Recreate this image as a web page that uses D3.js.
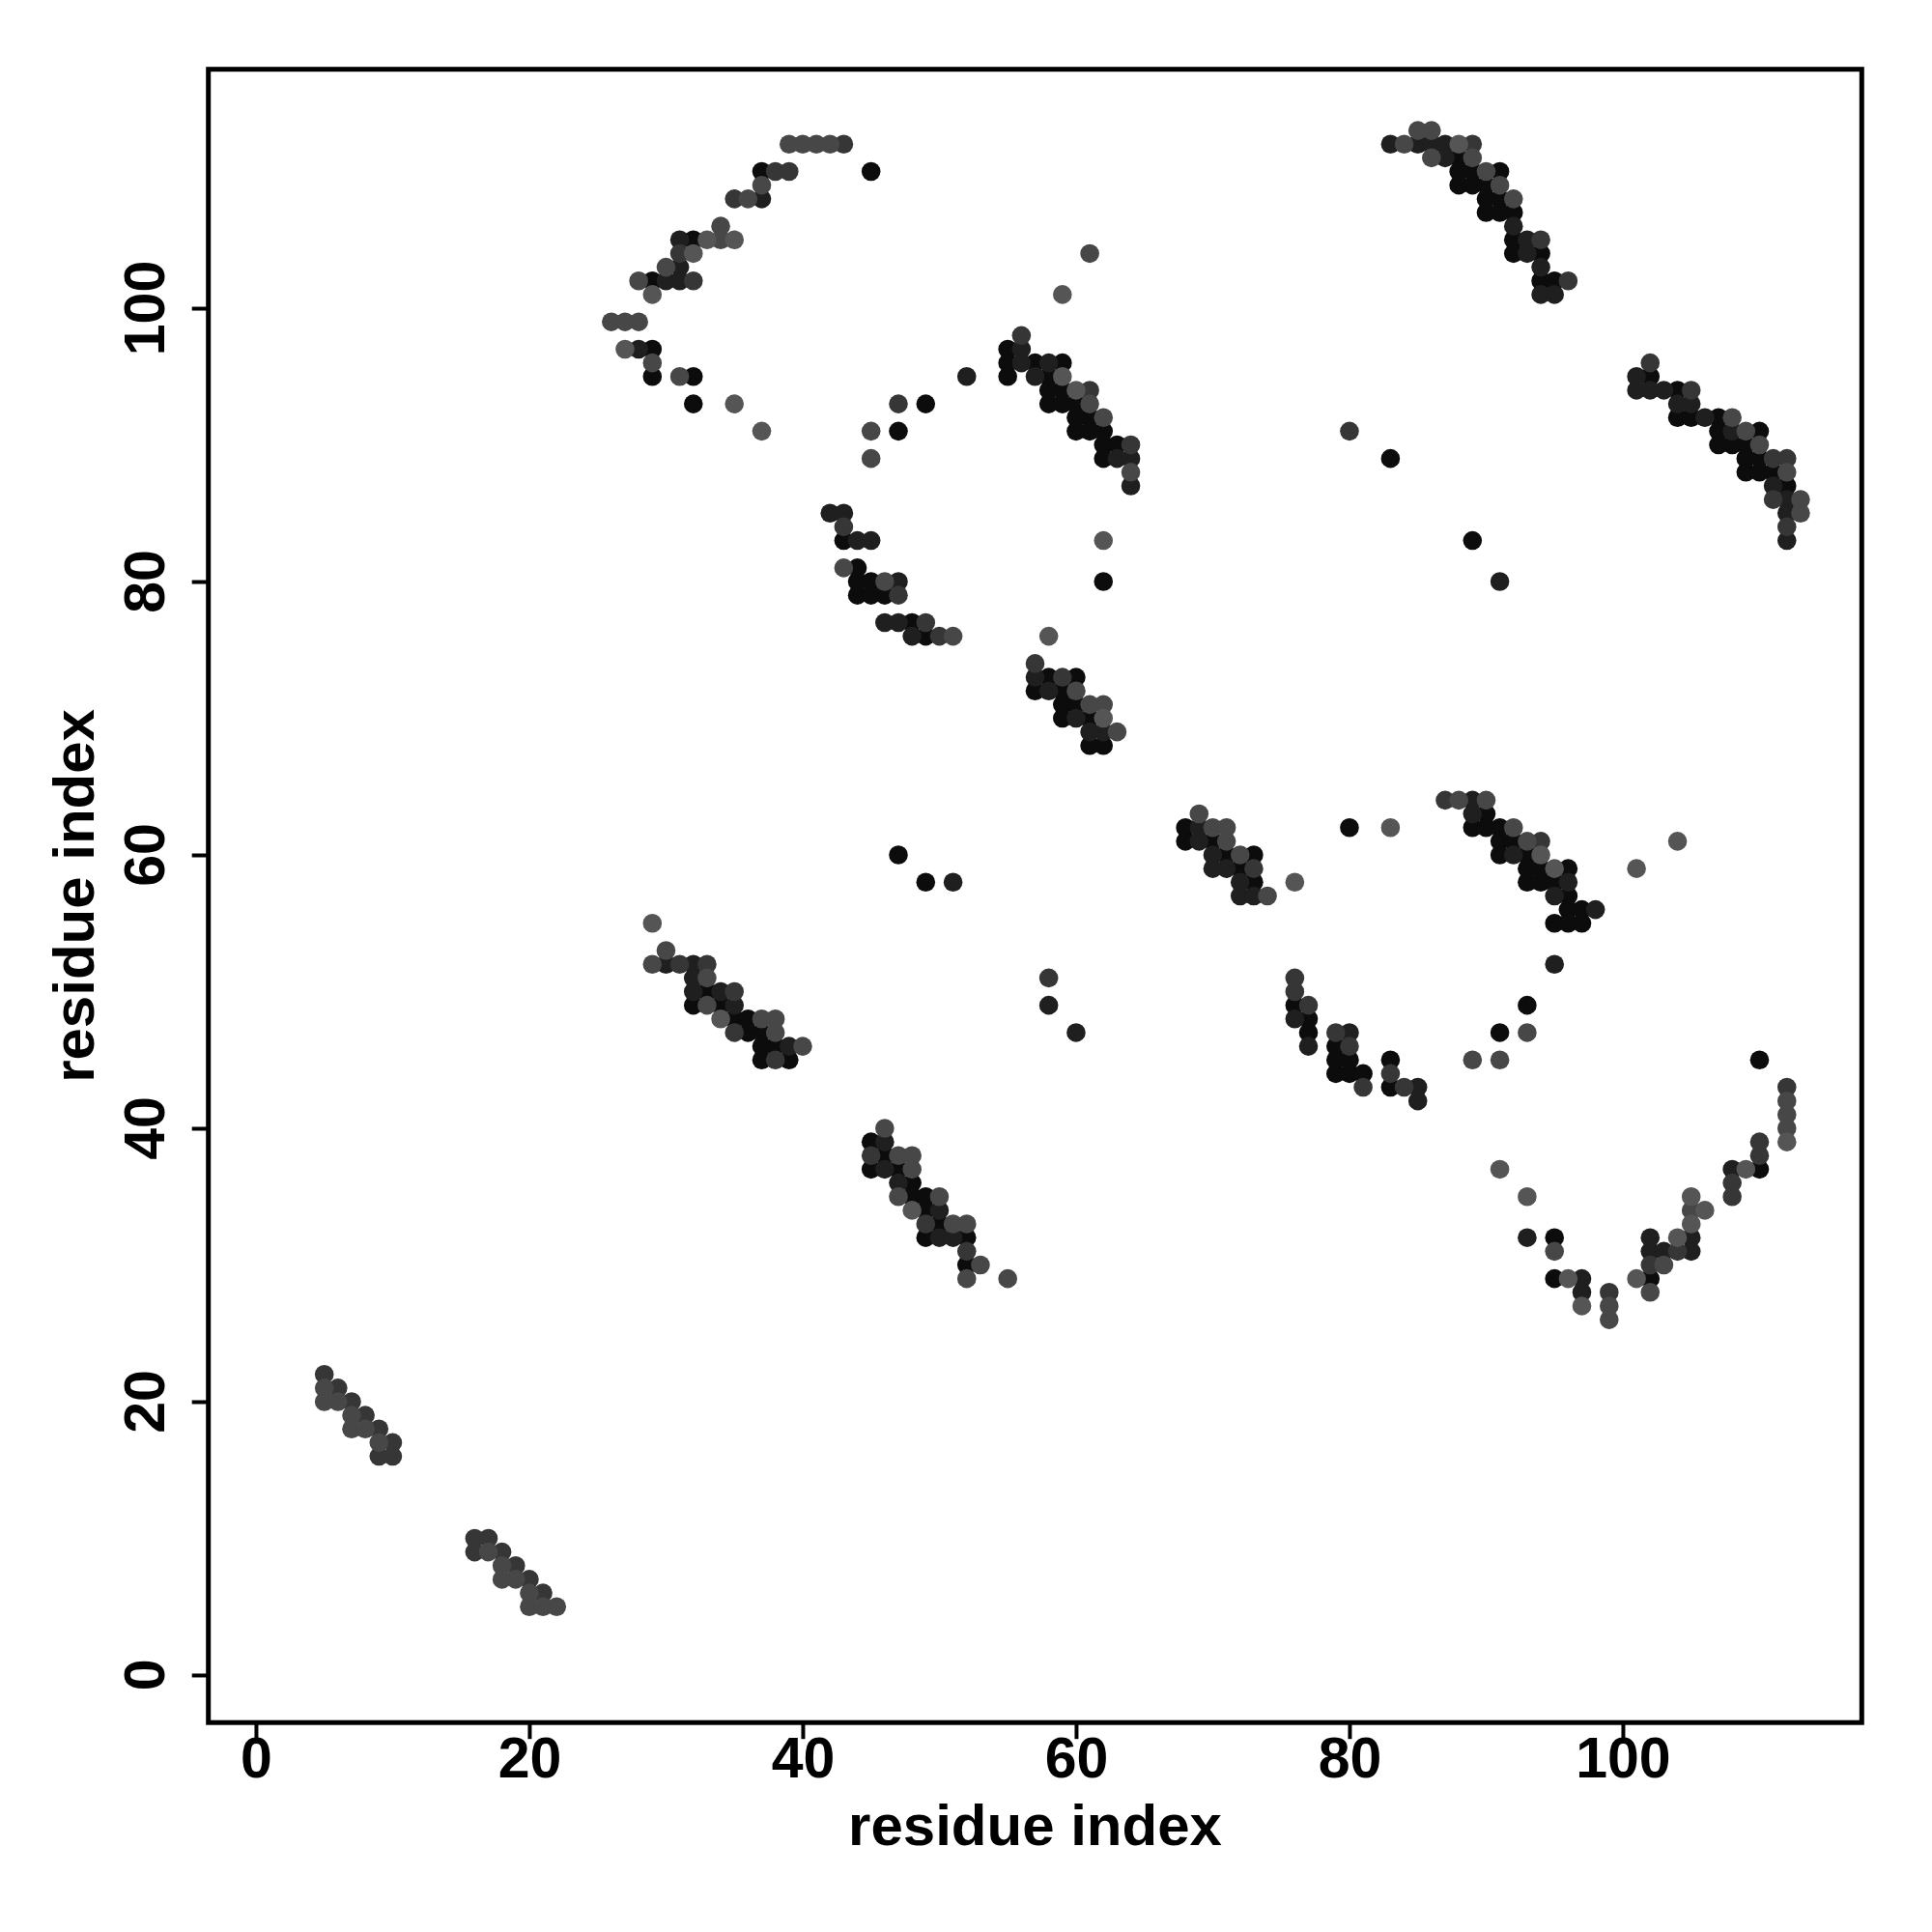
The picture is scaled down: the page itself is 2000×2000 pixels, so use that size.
<!DOCTYPE html>
<html><head><meta charset="utf-8">
<script src="https://cdn.jsdelivr.net/npm/d3@7"></script>
<style>body{margin:0;background:#fff}</style>
</head><body>
<script>
// Tick labels
const xTicks = [0, 20, 40, 60, 80, 100];
const yTicks = [0, 20, 40, 60, 80, 100];

// Contact pairs [residue i, residue j], grouped by shade level (5 = darkest)
const level5 = [[37,110],[45,110],[32,105],[29,102],[29,97],[29,95],[32,95],[32,93],[49,93],[47,91],
[88,111],[88,110],[89,110],[91,110],[88,109],[89,109],[90,109],[90,108],[91,108],[90,107],[91,107],[92,107],[92,105],[92,104],[94,104],[94,102],[95,102],
[55,97],[55,96],[57,96],[59,96],[55,95],[58,95],[58,94],[59,94],[58,93],[59,93],[60,93],[60,92],[61,92],[60,91],[61,91],[62,91],[62,90],[63,90],[62,89],
[102,95],[104,94],[104,92],[105,92],[107,92],[107,91],[110,91],[107,90],[108,90],[109,90],[109,89],[110,89],[109,88],[110,88],[111,88],[112,87],
[83,89],[89,83],
[43,83],[44,81],[44,80],[45,80],[44,79],[45,79],[46,79],[48,77],[49,76],[62,80],
[58,73],[60,73],[57,72],[59,72],[59,71],[60,71],[59,70],[61,70],[61,68],[62,68],
[68,62],[68,61],[70,61],[71,60],[73,60],[72,59],[73,58],[80,62],
[90,63],[89,62],[90,62],[91,62],[91,61],[92,61],[91,60],[93,60],[93,59],[94,59],[96,59],[93,58],[94,58],[95,58],[96,57],[96,56],[97,56],[95,55],[96,55],[97,55],
[47,60],[49,58],
[33,50],[32,49],[34,49],[35,48],[36,48],[36,47],[37,47],[37,46],[38,46],[37,45],[39,45],
[76,49],[77,48],[77,47],[79,46],[79,45],[80,45],[79,44],[80,44],[81,44],[83,45],[83,43],[91,47],[93,49],
[45,39],[46,38],[45,37],[47,37],[48,36],[48,35],[49,35],[49,34],[50,33],[49,32],[52,32],[52,30],
[110,45],[110,37],[95,32],[95,29],[102,29]];

const level4 = [[37,108],[31,105],[31,103],[30,102],[31,102],[28,97],[52,95],
[83,112],[85,112],[86,112],[87,112],[87,111],[92,106],[93,105],[93,104],[94,103],[94,101],[95,101],
[56,97],[56,96],[58,96],[57,95],[63,89],[64,89],[64,87],
[101,95],[101,94],[102,94],[103,94],[104,93],[105,93],[106,92],[108,91],[111,87],[112,86],[112,85],[112,83],
[91,80],
[42,85],[43,85],[44,83],[45,83],[47,80],[46,77],[47,77],[48,76],
[57,73],[58,72],[60,70],[61,69],[62,69],
[69,62],[69,61],[70,60],[70,59],[71,59],[72,58],[72,57],[73,57],
[89,64],[89,63],[92,60],[96,58],[95,57],[98,56],[95,52],
[51,58],
[30,52],[32,52],[32,51],[32,50],[34,50],[35,49],[39,46],[58,49],[60,47],
[76,48],[80,47],[77,46],[85,43],[85,42],
[46,39],[46,37],[47,36],[50,34],[50,32],[51,32],
[108,37],[93,32],[102,32],[105,32],[102,31],[103,31],[105,31],[97,29],[97,28]];

const level3 = [[43,112],[38,110],[39,110],[35,108],[31,104],[32,102],[47,93],
[89,112],[94,105],[96,102],
[56,98],[61,94],[64,90],
[102,96],[105,94],[111,89],[112,89],[111,86],[112,84],
[80,91],
[43,84],[47,79],[49,77],[50,76],
[57,74],[59,73],
[73,59],
[87,64],[94,61],
[31,52],[33,52],[35,50],[35,47],[38,45],[58,51],
[76,51],[76,50],[77,49],[79,47],[80,46],[81,43],[83,44],[84,43],
[45,38],[49,33],[52,31],
[112,43],[110,39],[110,38],[108,36],[108,35],[104,31],[102,30],[99,28],
[5,22],[6,21],[7,20],[8,19],[9,18],[10,17],[9,16],[10,16],[16,10],[17,10],[16,9],[18,9],[19,8],[20,7],[21,6]];

const level2 = [[39,112],[40,112],[41,112],[42,112],[37,109],[36,108],[34,106],[34,105],[30,103],[28,102],[26,99],[27,99],[28,99],[29,96],[31,95],[45,91],[45,89],
[85,113],[86,113],[84,112],[86,111],[89,111],[90,110],[91,109],[92,108],
[61,93],[62,92],[64,88],[61,104],
[108,92],[109,91],[110,90],[112,88],[113,86],[113,85],
[43,81],[46,80],[51,76],
[60,72],[61,71],[62,71],[63,69],
[69,63],[70,62],[71,62],[71,61],[72,60],[74,57],
[88,64],[90,64],[92,62],[93,61],
[30,53],[29,52],[33,51],[33,49],[37,48],[38,48],[38,47],[40,46],
[93,47],[89,45],[91,45],
[46,40],[47,38],[48,38],[48,37],[47,35],[50,35],[51,33],[52,33],[53,30],[52,29],[55,29],
[112,42],[112,41],[112,40],[105,34],[95,31],[103,30],[102,28],[99,27],[99,26],
[5,21],[5,20],[6,20],[7,19],[7,18],[8,18],[9,17],[17,9],[18,8],[18,7],[19,7],[20,6],[20,5],[21,5],[22,5]];

const level1 = [[33,105],[35,105],[32,104],[29,101],[27,97],[35,93],[37,91],
[88,112],
[59,101],[59,95],[60,94],
[62,83],[58,76],
[62,70],
[76,58],[83,62],
[94,60],[95,59],[101,59],[104,61],
[29,55],[34,48],
[48,34],
[112,39],[109,37],[91,37],[93,35],[105,35],[106,34],[105,33],[104,32],[96,29],[101,29],[97,27]];

const shadeLevels = [5, 4, 3, 2, 1];
const shadeColors = ["#0c0c0c", "#1f1f1f", "#363636", "#474747", "#555555"];
const levelData = [level5, level4, level3, level2, level1];

const W = 2000, H = 2000;
const plotL = 215.7, plotR = 1927.3, plotT = 71.7, plotB = 1783.2;
const x = d3.scaleLinear().domain([-3.48, 117.48]).range([plotL, plotR]);
const y = d3.scaleLinear().domain([-3.48, 117.48]).range([plotB, plotT]);
const color = d3.scaleOrdinal().domain(shadeLevels).range(shadeColors);

const rows = [];
shadeLevels.forEach((lv, k) => levelData[k].forEach(p => rows.push({i: p[0], j: p[1], level: lv})));

const FONT = "'Liberation Sans', Arial, sans-serif";
const svg = d3.select("body").append("svg").attr("width", W).attr("height", H)
  .style("font-family", FONT).style("font-weight", "bold");
svg.append("rect").attr("width", W).attr("height", H).attr("fill", "#fff");

svg.append("g").selectAll("circle").data(rows).join("circle")
  .attr("cx", d => x(d.i)).attr("cy", d => y(d.j)).attr("r", 9.8)
  .attr("fill", d => color(d.level));

svg.append("rect").attr("x", plotL).attr("y", plotT)
  .attr("width", plotR - plotL).attr("height", plotB - plotT)
  .attr("fill", "none").attr("stroke", "#000").attr("stroke-width", 5);

const xAxis = svg.append("g").attr("transform", `translate(0,${plotB})`)
  .call(d3.axisBottom(x).tickValues(xTicks).tickSize(17).tickPadding(-2).tickFormat(d3.format("d")));
xAxis.select(".domain").remove();
xAxis.selectAll("line").attr("stroke", "#000").attr("stroke-width", 4);
xAxis.selectAll("text").attr("font-size", 59).attr("font-weight", "bold")
  .attr("font-family", FONT).attr("fill", "#000");

const yAxis = svg.append("g").attr("transform", `translate(${plotL},0)`)
  .call(d3.axisLeft(y).tickValues(yTicks).tickSize(17).tickFormat(""));
yAxis.select(".domain").remove();
yAxis.selectAll("line").attr("stroke", "#000").attr("stroke-width", 4);

svg.append("g").selectAll("text").data(yTicks).join("text")
  .attr("transform", d => `translate(170,${y(d)}) rotate(-90)`)
  .attr("text-anchor", "middle").attr("font-size", 59).attr("fill", "#000")
  .text(d => d);

svg.append("text").attr("x", (plotL + plotR) / 2).attr("y", 1910)
  .attr("text-anchor", "middle").attr("font-size", 60).attr("fill", "#000")
  .text("residue index");
svg.append("text").attr("transform", `translate(97,${(plotT + plotB) / 2}) rotate(-90)`)
  .attr("text-anchor", "middle").attr("font-size", 60).attr("fill", "#000")
  .text("residue index");
</script>
</body></html>
